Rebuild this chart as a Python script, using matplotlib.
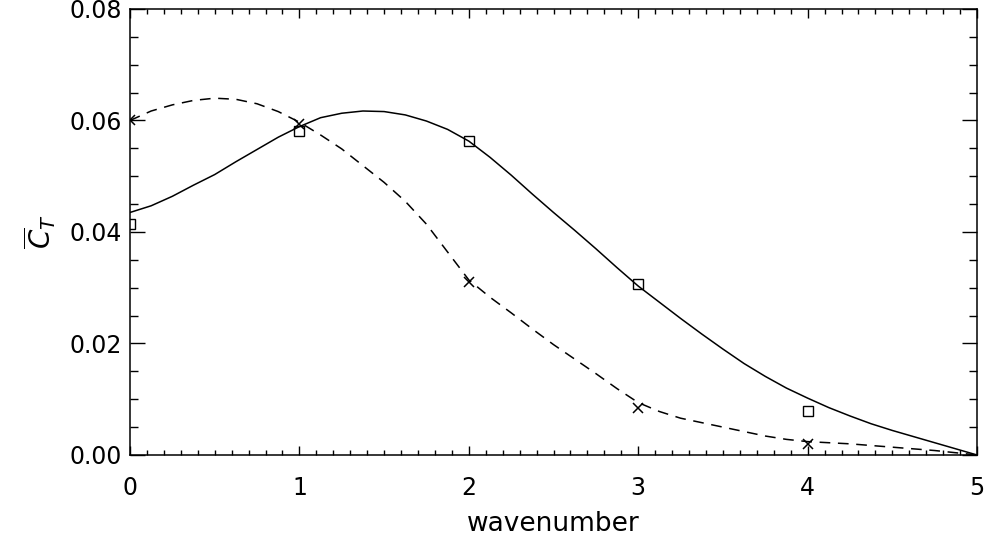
import matplotlib
matplotlib.use("Agg")
import matplotlib.pyplot as plt
from matplotlib.ticker import MultipleLocator, FormatStrFormatter

curve_k = [0.0, 0.125, 0.25, 0.375, 0.5, 0.625, 0.75, 0.875,
           1.0, 1.125, 1.25, 1.375, 1.5, 1.625, 1.75, 1.875,
           2.0, 2.125, 2.25, 2.375, 2.5, 2.625, 2.75, 2.875,
           3.0, 3.125, 3.25, 3.375, 3.5, 3.625, 3.75, 3.875,
           4.0, 4.125, 4.25, 4.375, 4.5, 4.625, 4.75, 4.875, 5.0]
solid_ct = [0.0435, 0.0447, 0.0464, 0.0484, 0.0503, 0.0526, 0.0548, 0.0570,
            0.0589, 0.0605, 0.0613, 0.0617, 0.0616, 0.0610, 0.0599, 0.0584,
            0.0563, 0.0534, 0.0502, 0.0468, 0.0435, 0.0403, 0.0370, 0.0336,
            0.0303, 0.0274, 0.0245, 0.0217, 0.0190, 0.0164, 0.0141, 0.0120,
            0.0102, 0.0085, 0.0070, 0.0056, 0.0044, 0.0033, 0.0022, 0.0011,
            0.0000]
dashed_ct = [0.0600, 0.0617, 0.0628, 0.0636, 0.0640, 0.0638, 0.0630, 0.0616,
             0.0597, 0.0574, 0.0549, 0.0519, 0.0489, 0.0455, 0.0414, 0.0364,
             0.0314, 0.0283, 0.0255, 0.0226, 0.0198, 0.0172, 0.0146, 0.0119,
             0.0094, 0.0078, 0.0066, 0.0058, 0.0050, 0.0042, 0.0034, 0.0028,
             0.0024, 0.0022, 0.0020, 0.0017, 0.0014, 0.0011, 0.0008, 0.0004,
             0.0000]

# discrete points
point_k = [0, 1, 2, 3, 4]
square_ct = [0.0414, 0.0581, 0.0563, 0.0306, 0.0079]
cross_ct = [0.0600, 0.0593, 0.0311, 0.0085, 0.0020]

fig = plt.figure(figsize=(9.87, 5.38), dpi=100)
ax = fig.add_axes([0.1317, 0.1543, 0.8582, 0.829])

ax.plot(curve_k, solid_ct, color="black", lw=1.1)
ax.plot(curve_k, dashed_ct, color="black", lw=1.1, linestyle=(0, (7, 5)))
ax.plot(point_k, square_ct, linestyle="none", marker="s", ms=7,
        mfc="none", mec="black", mew=1.0)
ax.plot(point_k, cross_ct, linestyle="none", marker="x", ms=7,
        color="black", mew=1.1)

ax.set_xlim(0, 5)
ax.set_ylim(0, 0.08)
ax.xaxis.set_major_locator(MultipleLocator(1))
ax.xaxis.set_minor_locator(MultipleLocator(0.1))
ax.yaxis.set_major_locator(MultipleLocator(0.02))
ax.yaxis.set_minor_locator(MultipleLocator(0.005))
ax.yaxis.set_major_formatter(FormatStrFormatter("%.2f"))

ax.tick_params(which="both", direction="in", top=True, right=True,
               labelsize=17, width=1.0)
ax.tick_params(axis="x", which="major", length=6.5, pad=15)
ax.tick_params(axis="x", which="minor", length=3.5)
ax.tick_params(axis="y", which="major", length=11, pad=6)
ax.tick_params(axis="y", which="minor", length=5.5)
for sp in ax.spines.values():
    sp.set_linewidth(1.1)

ax.set_xlabel("wavenumber", fontsize=19, labelpad=8)
ax.set_ylabel(r"$\overline{C}_T$", fontsize=20, labelpad=8)

fig.savefig("out.png", dpi=100)
